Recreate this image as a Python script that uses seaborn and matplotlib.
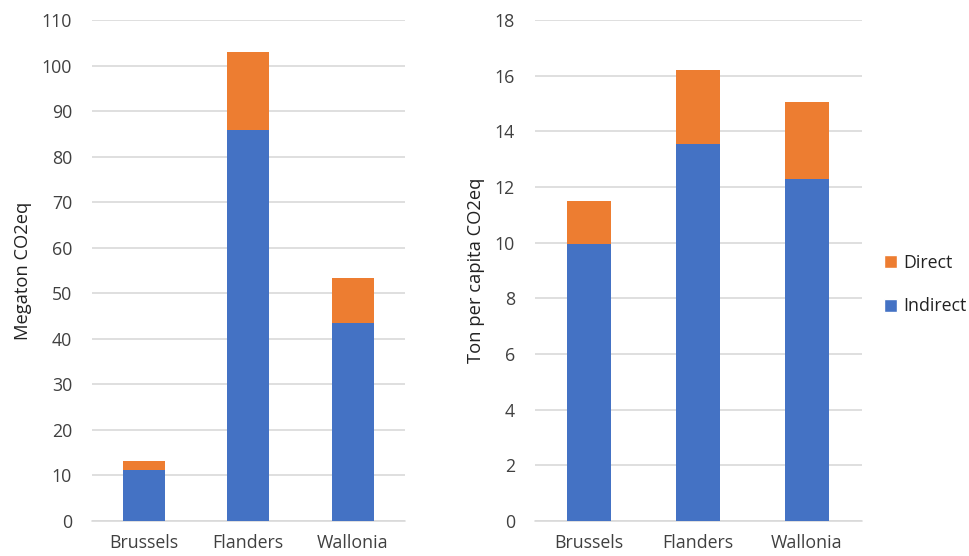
import matplotlib
matplotlib.use("Agg")
import matplotlib.pyplot as plt
import seaborn as sns
import pandas as pd
from matplotlib.patches import Patch

regions = ["Brussels", "Flanders", "Wallonia"]
total_mt_indirect = [11.3, 85.9, 43.5]
total_mt_direct = [1.8, 17.0, 9.8]
percap_indirect = [9.97, 13.53, 12.29]
percap_direct = [1.52, 2.69, 2.75]

left_ticks = list(range(0, 111, 10))
right_ticks = list(range(0, 19, 2))

BLUE = "#4472C4"
ORANGE = "#ED7D31"
GRID = "#D9D9D9"
TXT = "#404040"

sns.set_theme(style="white")
plt.rcParams["font.family"] = ["Open Sans", "DejaVu Sans"]

fig = plt.figure(figsize=(9.69, 5.56), dpi=100)
ax1 = fig.add_axes([91.5/969, 1-521/556, 313.5/969, 501/556])
ax2 = fig.add_axes([534.5/969, 1-521/556, 327/969, 501/556])

def draw(ax, ind, dirc, ticks, ylabel):
    df = pd.DataFrame({"region": regions, "indirect": ind,
                       "total": [a + b for a, b in zip(ind, dirc)]})
    sns.barplot(data=df, x="region", y="total", color=ORANGE, width=0.4,
                saturation=1, ax=ax, zorder=3, linewidth=0)
    sns.barplot(data=df, x="region", y="indirect", color=BLUE, width=0.4,
                saturation=1, ax=ax, zorder=3, linewidth=0)
    ax.set_ylim(ticks[0], ticks[-1])
    ax.set_xlim(-0.5, 2.5)
    ax.set_yticks(ticks)
    ax.yaxis.grid(True, color=GRID, linewidth=1.2, zorder=0)
    ax.set_axisbelow(True)
    for s in ax.spines.values():
        s.set_visible(False)
    ax.tick_params(axis="both", length=0, labelsize=12.8, colors=TXT)
    ax.tick_params(axis="y", pad=14)
    ax.tick_params(axis="x", pad=9)
    ax.set_xlabel("")
    ax.set_ylabel(ylabel, fontsize=13.2, color="#222222", labelpad=7)
    ax.set_facecolor("white")

draw(ax1, total_mt_indirect, total_mt_direct, left_ticks, "Megaton CO2eq")
draw(ax2, percap_indirect, percap_direct, right_ticks, "Ton per capita CO2eq")
ax1.axhline(0, color=GRID, linewidth=1.2, zorder=1, clip_on=False)
ax2.axhline(0, color=GRID, linewidth=1.2, zorder=1, clip_on=False)

handles = [Patch(facecolor=ORANGE, label="Direct"), Patch(facecolor=BLUE, label="Indirect")]
fig.legend(handles=handles, loc="center left", bbox_to_anchor=(884/969, 1-284.5/556),
           frameon=False, fontsize=12.8, handlelength=0.75, handleheight=0.75,
           handletextpad=0.35, labelspacing=1.45, labelcolor="#222222", borderaxespad=0,
           borderpad=0)

fig.savefig("out.png", dpi=100, facecolor="white")
